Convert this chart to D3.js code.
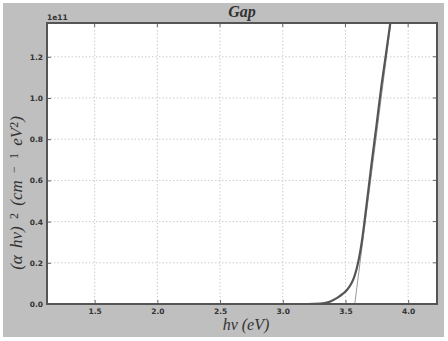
<!DOCTYPE html>
<html>
<head>
<meta charset="utf-8">
<script src="https://cdn.jsdelivr.net/npm/d3@7"></script>
<style>
  body { margin: 0; background: #fff; }
  svg text { fill: #333; }
</style>
</head>
<body>
<div id="chart"></div>
<script>
// photon energy (eV) and (alpha h nu)^2 in units of 1e11
const energy = [1.12, 1.5, 2.0, 2.5, 3.0, 3.2, 3.30, 3.36, 3.40, 3.44, 3.48, 3.51, 3.53, 3.55, 3.57, 3.59, 3.61, 3.63, 3.666, 3.706, 3.746, 3.786, 3.82, 3.858];
const absorb = [0, 0, 0, 0, 0, 0, 0.002, 0.008, 0.018, 0.032, 0.050, 0.067, 0.083, 0.103, 0.132, 0.172, 0.228, 0.30, 0.47, 0.67, 0.86, 1.055, 1.20, 1.366];

// linear fit extrapolated to the x axis
const fitX = [3.574, 3.862];
const fitY = [0, 1.366];

const xTicks = [1.5, 2.0, 2.5, 3.0, 3.5, 4.0];
const yTicks = [0.0, 0.2, 0.4, 0.6, 0.8, 1.0, 1.2];

const W = 448, H = 341;
const margin = { top: 23, right: 11, bottom: 37, left: 47 };
const width = W - margin.left - margin.right,
      height = H - margin.top - margin.bottom;

const svg = d3.select('#chart').append('svg')
    .attr('width', W)
    .attr('height', H);

// gray figure panel
svg.append('rect')
    .attr('x', 3).attr('y', 3)
    .attr('width', 441).attr('height', 334)
    .attr('fill', '#bfbfbf');

const g = svg.append('g')
    .attr('transform', `translate(${margin.left}, ${margin.top})`);

g.append('rect')
    .attr('width', width).attr('height', height)
    .attr('fill', '#fff');

const x = d3.scaleLinear().domain([1.12, 4.23]).range([0, width]);
const y = d3.scaleLinear().domain([0, 1.364]).range([height, 0]);

// grid
g.append('g').selectAll('line')
  .data(xTicks)
  .join('line')
    .attr('x1', d => x(d)).attr('x2', d => x(d))
    .attr('y1', 0).attr('y2', height)
    .attr('stroke', '#ccc')
    .attr('stroke-dasharray', '1.5,2');

g.append('g').selectAll('line')
  .data(yTicks)
  .join('line')
    .attr('x1', 0).attr('x2', width)
    .attr('y1', d => y(d)).attr('y2', d => y(d))
    .attr('stroke', '#ccc')
    .attr('stroke-dasharray', '1.5,2');

// axes, ticks pointing inwards
const xAxis = g.append('g')
    .attr('transform', `translate(0, ${height})`)
    .call(d3.axisBottom(x).tickValues(xTicks).tickFormat(d3.format('.1f')).tickSizeInner(-4).tickSizeOuter(0).tickPadding(5));
const yAxis = g.append('g')
    .call(d3.axisLeft(y).tickValues(yTicks).tickFormat(d3.format('.1f')).tickSizeInner(-4).tickSizeOuter(0).tickPadding(4));

[xAxis, yAxis].forEach(a => {
  a.select('.domain').remove();
  a.selectAll('line').attr('stroke', '#666');
  a.selectAll('text')
      .attr('font-family', 'DejaVu Sans')
      .attr('font-size', 7.5)
      .attr('font-weight', 'bold')
      .attr('fill', '#555');
});

// top/right ticks
g.append('g').selectAll('line')
  .data(xTicks)
  .join('line')
    .attr('x1', d => x(d)).attr('x2', d => x(d))
    .attr('y1', 0).attr('y2', 4)
    .attr('stroke', '#666');
g.append('g').selectAll('line')
  .data(yTicks)
  .join('line')
    .attr('x1', width - 4).attr('x2', width)
    .attr('y1', d => y(d)).attr('y2', d => y(d))
    .attr('stroke', '#666');

g.append('clipPath').attr('id', 'clip')
  .append('rect').attr('width', width).attr('height', height);

const line = d3.line()
    .x(d => x(d[0]))
    .y(d => y(d[1]));

g.append('path')
    .datum(fitX.map((d, i) => [d, fitY[i]]))
    .attr('clip-path', 'url(#clip)')
    .attr('fill', 'none')
    .attr('stroke', '#999')
    .attr('stroke-width', 1)
    .attr('d', line);

g.append('path')
    .datum(energy.map((d, i) => [d, absorb[i]]))
    .attr('clip-path', 'url(#clip)')
    .attr('fill', 'none')
    .attr('stroke', '#555')
    .attr('stroke-width', 2.2)
    .attr('d', line.curve(d3.curveMonotoneX));

// frame
g.append('rect')
    .attr('width', width).attr('height', height)
    .attr('fill', 'none')
    .attr('stroke', '#555')
    .attr('stroke-width', 2);

// texts
svg.append('text')
    .attr('x', margin.left + width / 2).attr('y', 17)
    .attr('text-anchor', 'middle')
    .attr('font-family', 'Liberation Serif')
    .attr('font-style', 'italic')
    .attr('font-weight', 'bold')
    .attr('font-size', 16)
    .attr('fill', '#222')
    .text('Gap');

svg.append('text')
    .attr('x', margin.left).attr('y', 20)
    .attr('font-family', 'DejaVu Sans')
    .attr('font-weight', 'bold')
    .attr('font-size', 7.5)
    .attr('fill', '#555')
    .text('1e11');

svg.append('text')
    .attr('x', margin.left + width / 2 + 4).attr('y', 330)
    .attr('text-anchor', 'middle')
    .attr('font-family', 'Liberation Serif')
    .attr('font-style', 'italic')
    .attr('font-size', 16)
    .attr('fill', '#222')
    .text('hν (eV)');

// y label, mathtext-like pieces: [text, superscript?]
const yLabelParts = [['(α hν) ', false], ['2', true], [' (cm ', false], ['−', true], [' ', false], ['1', true], [' eV', false], ['2', true], [')', false]];

const yLabel = svg.append('text')
    .attr('transform', 'translate(22, 193) rotate(-90)')
    .attr('text-anchor', 'middle')
    .attr('font-family', 'Liberation Serif')
    .attr('font-style', 'italic')
    .attr('font-size', 17)
    .attr('word-spacing', 3)
    .attr('fill', '#222');

yLabelParts.forEach(([t, sup]) => {
  yLabel.append('tspan')
      .attr('font-size', sup ? 12 : 17)
      .attr('baseline-shift', sup ? '35%' : null)
      .attr('font-style', sup ? 'normal' : 'italic')
      .text(t);
});
</script>
</body>
</html>
